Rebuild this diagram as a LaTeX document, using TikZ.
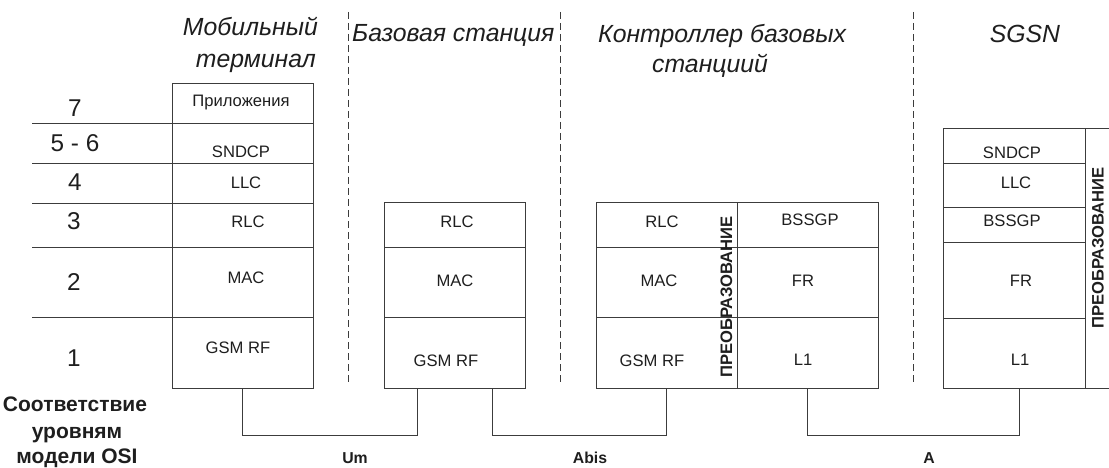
\documentclass[tikz,border=0pt]{standalone}
\usepackage{fontspec}
\setmainfont{Liberation Sans}
\usetikzlibrary{fit}
\definecolor{ink}{HTML}{1E1E1E}
\definecolor{rule}{HTML}{3C3C3C}
% one protocol layer: name, corner x1 y1, corner x2 y2, text position x y, text
\newcommand\layercell[8]{%
  \node[cell, fit={(#2,#3) (#4,#5)}] (#1) {};
  \node[lbl] (#1-txt) at (#6,#7) {#8};}
\begin{document}
\begin{tikzpicture}[x=1pt,y=-1pt,
  cell/.style={draw=rule, line width=0.9pt, inner sep=0pt},
  lbl/.style={text=ink, font=\fontsize{16.6}{19}\selectfont, inner sep=0pt},
  osinum/.style={text=ink, font=\fontsize{24.3}{28}\selectfont, inner sep=0pt},
  head/.style={text=ink, font=\fontsize{24.8}{28}\selectfont\itshape, inner sep=0pt},
  boldlbl/.style={text=ink, font=\fontsize{15.8}{18}\selectfont\bfseries, inner sep=0pt},
  osititle/.style={text=ink, font=\fontsize{21}{28}\selectfont\bfseries, inner sep=0pt},
  conv/.style={text=ink, font=\fontsize{16.6}{18}\selectfont\bfseries, inner sep=0pt, rotate=90},
  link/.style={draw=rule, line width=0.9pt},
  sep/.style={draw=rule, line width=0.8pt, dash pattern=on 7pt off 4pt},
]
\useasboundingbox (0,0) rectangle (1109,468);
\clip (0,0) rectangle (1109,468);

% column headings
\node[head, anchor=base east] (h-mt1) at (318,36) {Мобильный};
\node[head, anchor=base east] (h-mt2) at (316,68) {терминал};
\node[head, anchor=base west] (h-bs) at (352,42) {Базовая станция};
\node[head, anchor=base west] (h-bsc1) at (598,43) {Контроллер базовых};
\node[head, anchor=base west] (h-bsc2) at (652,73) {станциий};
\node[head, anchor=base] (h-sgsn) at (1025,43) {SGSN};

% boundaries between network elements
\draw[sep] (348,12) -- (348,383);
\draw[sep] (560,12) -- (560,383);
\draw[sep] (913,12) -- (913,383);

% mobile terminal stack
\layercell{mt7}{172}{83}{313}{123}{241}{103}{Приложения}
\layercell{mt56}{172}{123}{313}{163}{241}{152}{SNDCP}
\layercell{mt4}{172}{163}{313}{203}{246}{183}{LLC}
\layercell{mt3}{172}{203}{313}{247}{248}{222}{RLC}
\layercell{mt2}{172}{247}{313}{317}{246}{278}{MAC}
\layercell{mt1}{172}{317}{313}{388}{238}{348}{GSM RF}

% OSI level rulers and numbers
\draw[link] (mt7.south west) -- ++(-140,0);
\draw[link] (mt56.south west) -- ++(-140,0);
\draw[link] (mt4.south west) -- ++(-140,0);
\draw[link] (mt3.south west) -- ++(-140,0);
\draw[link] (mt2.south west) -- ++(-140,0);
\node[osinum] (osi7) at (75,108) {7};
\node[osinum] (osi56) at (75,143) {5 - 6};
\node[osinum] (osi4) at (75,182) {4};
\node[osinum] (osi3) at (74,221) {3};
\node[osinum] (osi2) at (74,282) {2};
\node[osinum] (osi1) at (74,358) {1};
\node[osititle, anchor=base] (osi-t1) at (75,411) {Соответствие};
\node[osititle, anchor=base] (osi-t2) at (77,438) {уровням};
\node[osititle, anchor=base] (osi-t3) at (77,463) {модели OSI};

% base station stack
\layercell{bs3}{384}{202}{525}{247}{457}{222}{RLC}
\layercell{bs2}{384}{247}{525}{317}{455}{281}{MAC}
\layercell{bs1}{384}{317}{525}{388}{446}{361}{GSM RF}

% base station controller stacks
\layercell{bl3}{596}{202}{737}{247}{662}{222}{RLC}
\layercell{bl2}{596}{247}{737}{317}{659}{281}{MAC}
\layercell{bl1}{596}{317}{737}{388}{652}{361}{GSM RF}
\layercell{br3}{737}{202}{878}{247}{810}{220}{BSSGP}
\layercell{br2}{737}{247}{878}{317}{803}{281}{FR}
\layercell{br1}{737}{317}{878}{388}{803}{360}{L1}
\node[conv] (bsc-conv) at (726.5,297) {ПРЕОБРАЗОВАНИЕ};

% SGSN stack
\layercell{sg5}{943}{128}{1085}{163}{1012}{153}{SNDCP}
\layercell{sg4}{943}{163}{1085}{207}{1016}{183}{LLC}
\layercell{sg3}{943}{207}{1085}{242}{1012}{221}{BSSGP}
\layercell{sg2}{943}{242}{1085}{318}{1021}{281}{FR}
\layercell{sg1}{943}{318}{1085}{388}{1020}{360}{L1}
\node[cell, fit={(1085,128) (1130,388)}] (sg-convbox) {};
\node[conv] (sg-conv) at (1098,248) {ПРЕОБРАЗОВАНИЕ};

% interface connectors
\coordinate (bs-um) at (417,388);
\coordinate (bs-abis) at (492,388);
\coordinate (bl-abis) at (666,388);
\coordinate (sg-a) at (1019,388);
\draw[link] (mt1.south) -- ++(0,47) -| (bs-um);
\draw[link] (bs-abis) -- ++(0,47) -| (bl-abis);
\draw[link] (br1.south) -- ++(0,47) -| (sg-a);
\node[boldlbl] (if-um) at (355,458) {Um};
\node[boldlbl] (if-abis) at (590,458) {Abis};
\node[boldlbl] (if-a) at (929,458) {A};
\end{tikzpicture}
\end{document}
